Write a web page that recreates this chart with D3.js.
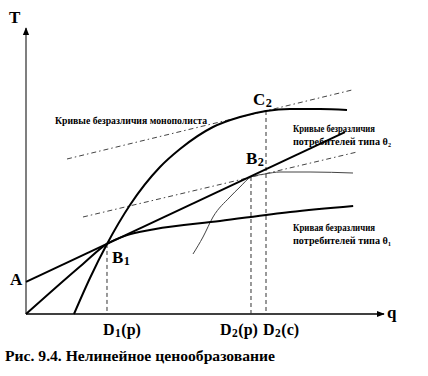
<!DOCTYPE html>
<html>
<head>
<meta charset="utf-8">
<script src="https://cdn.jsdelivr.net/npm/d3@7"></script>
<style>
  html, body { margin: 0; padding: 0; background: #fff; }
  svg { display: block; }
</style>
</head>
<body>
<svg id="chart" width="428" height="376"></svg>
<script>
// ---- Data (q, T units) ----
const tariffLine = [[0, 11.2], [89.6, 63.6]];               // T = A + p q
const theta1Curve = [[0, 0], [16, 17.5], [22.75, 24.5], [28, 27.4], [36, 29.6], [54.5, 32.5], [74.2, 35.7], [91.9, 37.8]];
const theta2Curve = [[13.48, 0], [17.98, 12.59], [22.75, 24.48], [29.21, 38.11], [37.64, 51.4], [43.26, 57.69], [52.53, 65.38], [60.11, 68.88], [67.42, 70.98], [74.16, 71.68], [82.58, 71.68], [90.17, 71.33]];
const thinCurve = [[46.91, 20.98], [49.72, 26.92], [52.53, 33.92], [57.3, 40.91], [60.11, 44.41], [63.2, 47.9], [67.13, 48.95], [71.35, 49.65], [79.78, 49.65], [91.85, 49.3]];
const monopolyUpper = [[11.52, 54.2], [91.57, 78.32]];
const monopolyLower = [[16.01, 33.92], [92.98, 56.64]];
const dropLines = [[22.75, 24.5], [63.2, 47.9], [67.42, 70.98]];
const dropLabels = [["D", "1", "(p)"], ["D", "2", "(p)"], ["D", "2", "(c)"]];
const pointLabels = [
  { main: "A", sub: "", q: 0, T: 11.2 },
  { main: "B", sub: "1", q: 22.75, T: 24.5 },
  { main: "B", sub: "2", q: 63.2, T: 47.9 },
  { main: "C", sub: "2", q: 67.42, T: 70.98 }
];
const noteMonopoly = ["Кривые безразличия монополиста"];
const noteTheta2 = ["Кривые безразличия", "потребителей типа θ₂"];
const noteTheta1 = ["Кривая безразличия", "потребителей типа θ₁"];
const caption = "Рис. 9.4. Нелинейное ценообразование";

const FONT = "'Liberation Serif', 'DejaVu Serif', 'Times New Roman', serif";

// ---- Scales ----
const svg = d3.select("#chart");
const x = d3.scaleLinear().domain([0, 100]).range([26, 382]);
const y = d3.scaleLinear().domain([0, 100]).range([314, 28]);

const defs = svg.append("defs");
defs.append("marker").attr("id", "arr").attr("viewBox", "0 0 10 10")
  .attr("refX", 9).attr("refY", 5).attr("markerWidth", 8).attr("markerHeight", 8)
  .attr("markerUnits", "userSpaceOnUse").attr("orient", "auto")
  .append("path").attr("d", "M0,1 L10,5 L0,9 Z").attr("fill", "#000");

// ---- Axes ----
const xAxis = svg.append("g").attr("transform", `translate(0,${y(0)})`)
  .call(d3.axisBottom(x).tickValues([]).tickSizeOuter(0));
xAxis.select(".domain").attr("stroke", "#000").attr("stroke-width", 1.5)
  .attr("d", `M${x(0)},0H${x(100) + 2}`).attr("marker-end", "url(#arr)");
const yAxis = svg.append("g").attr("transform", `translate(${x(0)},0)`)
  .call(d3.axisLeft(y).tickValues([]).tickSizeOuter(0));
yAxis.select(".domain").attr("stroke", "#555").attr("stroke-width", 1.5)
  .attr("d", `M0,${y(0)}V${y(100)}`).attr("marker-end", "url(#arr)");

const line = d3.line().x(d => x(d[0])).y(d => y(d[1]));
const curve = d3.line().x(d => x(d[0])).y(d => y(d[1])).curve(d3.curveMonotoneX);

// dashed drop lines
svg.selectAll(".drop").data(dropLines).join("line")
  .attr("x1", d => x(d[0])).attr("x2", d => x(d[0]))
  .attr("y1", d => y(d[1])).attr("y2", y(0))
  .attr("stroke", "#333").attr("stroke-width", 1).attr("stroke-dasharray", "4,3");

// dash-dot lines
[monopolyUpper, monopolyLower].forEach(d => {
  svg.append("path").attr("d", line(d)).attr("fill", "none")
    .attr("stroke", "#444").attr("stroke-width", 1).attr("stroke-dasharray", "5,3,1.5,3");
});

// thin curve
svg.append("path").attr("d", curve(thinCurve)).attr("fill", "none")
  .attr("stroke", "#444").attr("stroke-width", 1);

// thick curves
[theta1Curve, theta2Curve].forEach(d => {
  svg.append("path").attr("d", curve(d)).attr("fill", "none")
    .attr("stroke", "#000").attr("stroke-width", 2);
});
svg.append("path").attr("d", line(tariffLine)).attr("fill", "none")
  .attr("stroke", "#000").attr("stroke-width", 2);

// ---- Labels ----
function txt(s, x0, y0, fs, w) {
  const t = svg.append("text").attr("x", x0).attr("y", y0)
    .attr("font-family", FONT).attr("font-weight", "bold").attr("font-size", fs)
    .attr("fill", "#000").text(s);
  if (w) t.attr("textLength", w).attr("lengthAdjust", "spacingAndGlyphs");
  return t;
}
// letter followed by a subscript digit (separate texts, side by side)
function subLabel(main, sub, x0, y0, fs, rest) {
  const a = txt(main, x0, y0, fs);
  let xe = x0 + a.node().getComputedTextLength();
  if (sub) {
    const b = txt(sub, xe + 0.5, y0 + 2, fs * 0.72);
    xe += 0.5 + b.node().getComputedTextLength();
  }
  if (rest) txt(rest, xe + 0.5, y0, fs);
}

txt("T", 9, 23, 17);
txt("q", 387, 318, 17);

const labelOffsets = [[-16, 3], [5, 19], [-5, -13], [-13, -6]];
pointLabels.forEach((p, i) => {
  subLabel(p.main, p.sub, x(p.q) + labelOffsets[i][0], y(p.T) + labelOffsets[i][1], 17, "");
});

const dropOffsets = [-4, -31, -3];
dropLines.forEach((d, i) => {
  subLabel(dropLabels[i][0], dropLabels[i][1], x(d[0]) + dropOffsets[i], 335, 16, dropLabels[i][2]);
});

txt(noteMonopoly[0], 55, 124, 10, 152);
txt(noteTheta2[0], 293, 132, 10, 82);
txt(noteTheta2[1], 293, 145, 10, 98);
txt(noteTheta1[0], 293, 231, 10, 82);
txt(noteTheta1[1], 293, 244, 10, 98);

txt(caption, 5, 361, 15, 270);
</script>
</body>
</html>
